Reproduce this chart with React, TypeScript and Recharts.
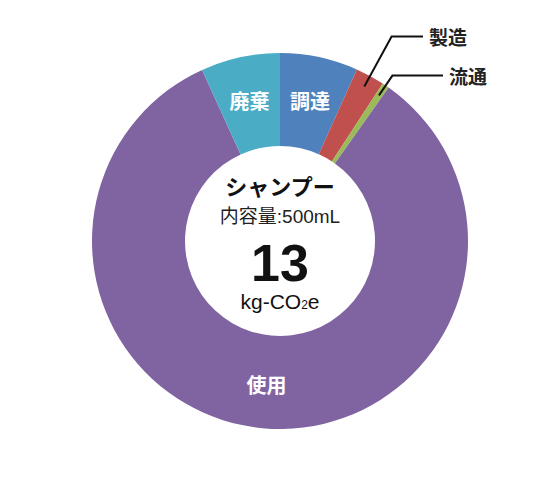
import React from 'react';
import { PieChart, Pie, Cell, Label } from 'recharts';

// 工程別の割合（%）
const stages = ['調達', '製造', '流通', '使用', '廃棄'];
const shares = [6.7, 2.5, 0.6, 83.4, 6.8];
const colors = ['#4f81bd', '#c0504d', '#9bbb59', '#8064a2', '#4bacc6'];

const productName = 'シャンプー';
const volumeLabel = '内容量:500mL';
const totalValue = '13';

const data = stages.map((name, i) => ({ name, value: shares[i] }));

const JP = '"Noto Sans CJK JP", "Liberation Sans", sans-serif';
const LATIN = '"Liberation Sans", Arial, "Noto Sans CJK JP", sans-serif';
const RAD = Math.PI / 180;
const CX = 280;
const CY = 241;

// 外側ラベルの引き出し線（折れ点までの半径と水平線の終点）
const outside: Record<string, { elbowR: number; endX: number }> = {
  製造: { elbowR: 233, endX: 423 },
  流通: { elbowR: 200, endX: 443 },
};

const renderLabel = (props: any) => {
  const { cx, cy, midAngle, outerRadius, name } = props;
  const cos = Math.cos(-midAngle * RAD);
  const sin = Math.sin(-midAngle * RAD);
  const out = outside[name];
  if (out) {
    const sx = cx + (outerRadius - 12) * cos;
    const sy = cy + (outerRadius - 12) * sin;
    const ex = cx + out.elbowR * cos;
    const ey = cy + out.elbowR * sin;
    return (
      <g>
        <polyline
          points={`${sx},${sy} ${ex},${ey} ${out.endX},${ey}`}
          fill="none"
          stroke="#111"
          strokeWidth={2}
        />
        <text x={out.endX + 6} y={ey} dominantBaseline="central" fontFamily={JP} fontWeight={700} fontSize={19} fill="#222">
          {name}
        </text>
      </g>
    );
  }
  const r = 144;
  return (
    <text
      x={cx + r * cos}
      y={cy + r * sin}
      textAnchor="middle"
      dominantBaseline="central"
      fontFamily={JP}
      fontWeight={700}
      fontSize={20}
      fill="#ffffff"
    >
      {name}
    </text>
  );
};

const CenterText = () => (
  <g>
    <text x={CX} y={CY - 56} textAnchor="middle" dominantBaseline="central" fontFamily={JP} fontWeight={700} fontSize={22} fill="#111">
      {productName}
    </text>
    <text x={CX} y={CY - 25} textAnchor="middle" dominantBaseline="central" fontFamily={LATIN} fontSize={19} fill="#222">
      {volumeLabel}
    </text>
    <text x={CX} y={CY + 22} textAnchor="middle" dominantBaseline="central" fontFamily={LATIN} fontWeight={700} fontSize={52} fill="#111">
      {totalValue}
    </text>
    <text x={CX} y={CY + 68} textAnchor="middle" fontFamily={LATIN} fontSize={21} fill="#111">
      kg-CO<tspan fontSize={12}>2</tspan>e
    </text>
  </g>
);

export default function App() {
  return (
    <div style={{ position: 'absolute', left: 0, top: 0, width: 560, height: 480, background: '#fff' }}>
      <PieChart width={560} height={480} margin={{ top: 0, right: 0, bottom: 0, left: 0 }}>
        <Pie
          data={data}
          dataKey="value"
          nameKey="name"
          cx={CX}
          cy={CY}
          innerRadius={95}
          outerRadius={188}
          startAngle={90}
          endAngle={-270}
          stroke="none"
          label={renderLabel}
          labelLine={false}
          isAnimationActive={false}
        >
          {data.map((d, i) => (
            <Cell key={d.name} fill={colors[i]} />
          ))}
          <Label position="center" content={CenterText} />
        </Pie>
      </PieChart>
    </div>
  );
}
